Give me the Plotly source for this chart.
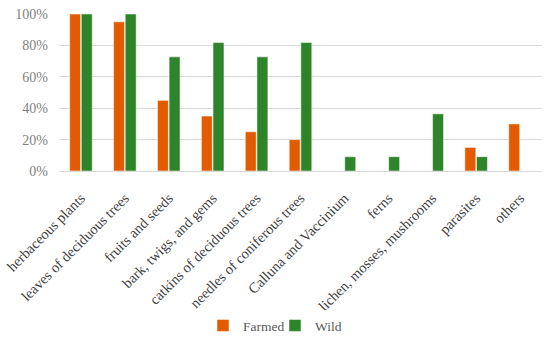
import plotly.graph_objects as go

categories = ["herbaceous plants", "leaves of deciduous trees", "fruits and seeds",
              "bark, twigs, and gems", "catkins of deciduous trees",
              "needles of coniferous trees", "Calluna and Vaccinium", "ferns",
              "lichen, mosses, mushrooms", "parasites", "others"]
farmed = [100, 95, 45, 35, 25, 20, 0, 0, 0, 15, 30]
wild = [100, 100, 72.7, 81.8, 72.7, 81.8, 9.1, 9.1, 36.4, 9.1, 0]

font_family = "Liberation Serif, DejaVu Serif, serif"

fig = go.Figure()
fig.add_trace(go.Bar(name="Farmed", x=categories, y=[v / 100 for v in farmed],
                     marker=dict(color="#E35B00", line=dict(color="#ffffff", width=0.5))))
fig.add_trace(go.Bar(name="Wild", x=categories, y=[v / 100 for v in wild],
                     marker=dict(color="#2E8429", line=dict(color="#ffffff", width=0.5))))

fig.update_layout(
    width=550, height=337,
    margin=dict(l=59, r=8, t=14, b=166, autoexpand=False),
    barmode="group", bargap=0.47, bargroupgap=0.06,
    plot_bgcolor="white", paper_bgcolor="white",
    font=dict(family=font_family, size=13, color="#595959"),
    legend=dict(orientation="h", xref="container", x=0.5, xanchor="center",
                y=-0.985, yanchor="middle",
                font=dict(size=13.5, color="#595959"), itemwidth=30,
                entrywidth=27, entrywidthmode="pixels",
                traceorder="normal"),
    showlegend=True,
)
fig.update_xaxes(tickangle=-45, showgrid=False, showline=True, linecolor="#d9d9d9",
                 linewidth=1, tickfont=dict(size=14.5, color="#404040"), ticks="",
                 ticklabelstandoff=12, automargin=False)
fig.update_yaxes(range=[0, 1], tickformat=".0%", dtick=0.2, showgrid=True,
                 gridcolor="#d9d9d9", gridwidth=1, zeroline=False,
                 tickfont=dict(size=14, color="#7f7f7f"), ticks="",
                 ticklabelstandoff=10, automargin=False)

fig.write_html("out.html", config={"displayModeBar": False},
               post_script="document.body.style.margin='0px';document.body.style.overflow='hidden';")
